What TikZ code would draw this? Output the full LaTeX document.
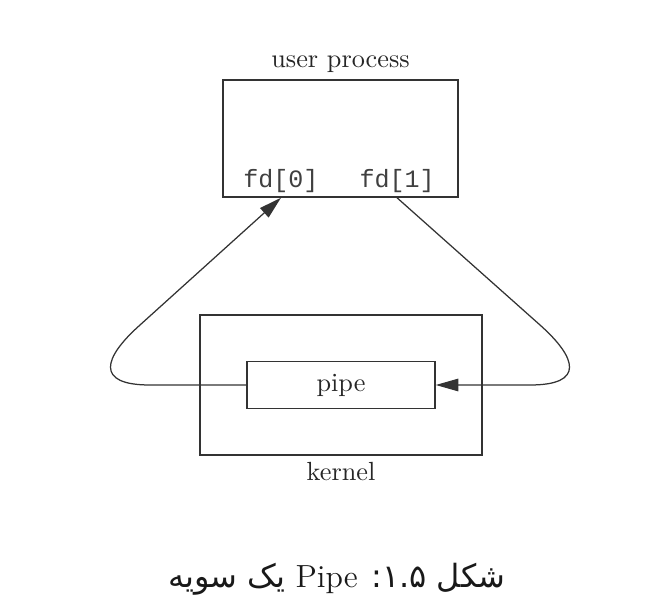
\documentclass[tikz,border=0pt]{standalone}
\usepackage{fontspec}
\newfontfamily\codefont{Liberation Mono}
\newfontfamily\arabicfont[Script=Arabic]{DejaVu Sans}
\TeXXeTstate=1
\usetikzlibrary{arrows.meta,positioning}

\begin{document}
\begin{tikzpicture}[x=0.4pt, y=-0.4pt,
    frame/.style={rectangle, draw=black!80, line width=0.6pt, inner sep=0pt},
    fdlabel/.style={font=\codefont, text=black!75, anchor=base},
    caption/.style={font=\fontsize{12.8}{15}\selectfont, text=black!90},
    link/.style={draw=black!80, line width=0.5pt},
    tip/.style={-{Triangle[length=9pt, width=5pt]}}
]
\useasboundingbox (0,0) rectangle (645,605);

\node[frame, minimum width=94pt, minimum height=46.8pt] (proc) at (340.5,138.5) {};
\node[above=-1pt of proc, text=black!85, font=\fontsize{10.5}{12}\selectfont] (proclabel) {user process};
\node[fdlabel] (fd0) at (281,188) {fd[0]};
\node[fdlabel] (fd1) at (397,188) {fd[1]};

\node[frame, minimum width=112.8pt, minimum height=56pt] (kernel) at (341,385) {};
\node[frame, minimum width=75.2pt, minimum height=18.8pt, text=black!85, font=\fontsize{10.5}{12}\selectfont] (pipe) at (kernel.center) {pipe};
\node[below=-1pt of kernel, text=black!85, font=\fontsize{10.5}{12}\selectfont] (kernellabel) {kernel};

% caption
\node[caption] (cap) at (337,579) {\arabicfont\beginR شکل \beginL ۱.۵\endL: \beginL{\rmfamily Pipe}\endL{} یک سویه\endR};

\draw[link, tip] (pipe.west) -- (150,385) .. controls (95,385) and (103,358) .. (140,325) -- (proc.south -| fd0);
\draw[link, tip] (proc.south -| fd1) -- (540,325) .. controls (577,358) and (585,385) .. (530,385) -- (pipe.east);
\end{tikzpicture}
\end{document}
